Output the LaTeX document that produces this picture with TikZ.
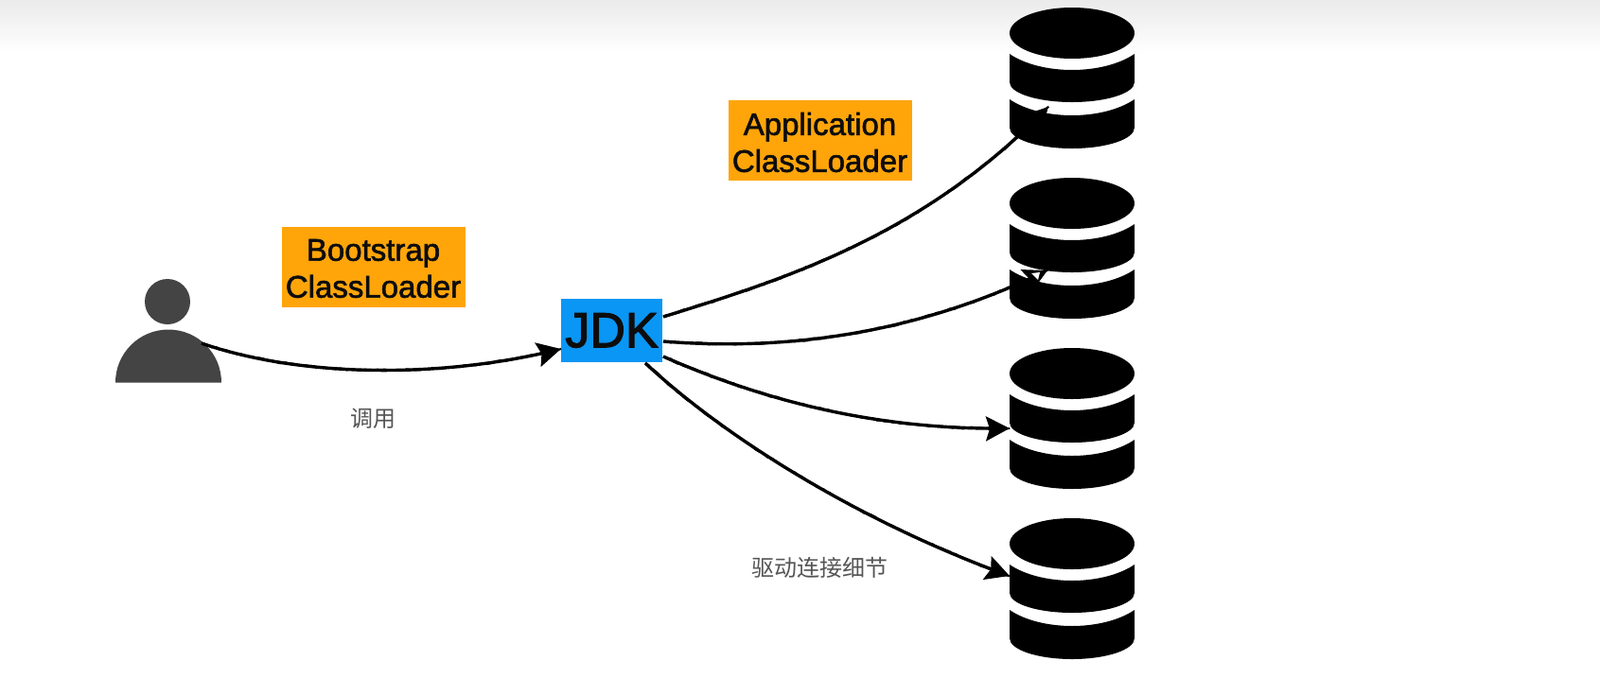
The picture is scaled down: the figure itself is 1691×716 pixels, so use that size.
\documentclass[tikz,border=0pt]{standalone}
\usepackage{fontspec}
\setmainfont{Liberation Sans}
\newfontfamily\cjk{Noto Sans CJK SC}
\newfontfamily\boldish[FakeBold=1.8]{Liberation Sans}
\newfontfamily\boldishbig[FakeBold=2.4]{Liberation Sans}
\usetikzlibrary{arrows.meta,bending,decorations.pathmorphing}
\definecolor{loader}{HTML}{FFA50A}
\definecolor{jdkblue}{HTML}{0A96F5}
\definecolor{persongray}{HTML}{444444}
\definecolor{labelgray}{HTML}{555555}
\tikzset{
  loaderbox/.style={fill=loader,inner sep=0pt,minimum width=194pt,minimum height=85pt},
  loadertext/.style={inner sep=0pt,align=center,text=black!95,font=\boldish\fontsize{33}{39}\selectfont},
  jdkbox/.style={fill=jdkblue,inner sep=0pt,minimum width=107pt,minimum height=67pt,text=black!95,font=\boldishbig\fontsize{52}{56}\selectfont},
  note/.style={text=labelgray,inner sep=0pt,font=\cjk\fontsize{24}{26}\selectfont},
  link/.style={draw=black,line width=3.4pt,decoration={random steps,segment length=4pt,amplitude=1pt},
    postaction={draw,-,line width=2pt,decorate}, -{Stealth[length=25pt,width=26pt,inset=4pt,flex=0]}},
  dbpic/.pic={
    \fill[black] (0,0) ellipse [x radius=66,y radius=27];
    \fill[black] (-66,22) .. controls (-50,33) and (-25,39) .. (0,39) .. controls (25,39) and (50,33) .. (66,22) -- (66,52) arc [start angle=0,end angle=180,x radius=66,y radius=21] -- cycle;
    \fill[black] (-66,70) .. controls (-50,81) and (-25,87) .. (0,87) .. controls (25,87) and (50,81) .. (66,70) -- (66,100) arc [start angle=0,end angle=180,x radius=66,y radius=22] -- cycle;
  }
}
\begin{document}
\begin{tikzpicture}[x=1pt,y=-1pt]
\useasboundingbox (0,0) rectangle (1691,716);
\fill[white] (0,0) rectangle (1691,716);
\shade[top color=black!8,bottom color=white] (0,0) rectangle (1691,56);

% person
\fill[persongray] (177,319) circle [radius=24];
\fill[persongray] (122,404.5) arc [start angle=180,end angle=0,x radius=56,y radius=-56] -- cycle;
\coordinate (person) at (213,363);

% databases
\pic at (1133,35) {dbpic};
\pic at (1133,215) {dbpic};
\pic at (1133,395) {dbpic};
\pic at (1133,575) {dbpic};
\coordinate (db1) at (1108,113);
\coordinate (db2) at (1107,286);
\coordinate (db3) at (1067,453);
\coordinate (db4) at (1067,609);

% boxes
\node[loaderbox] (boot) at (394.5,282) {};
\node[loadertext] (boottext) at ([yshift=-2pt]boot.center) {Bootstrap\\ClassLoader};
\node[loaderbox] (app) at (866.5,148.5) {};
\node[loadertext] (apptext) at ([yshift=-2pt]app.center) {Application\\ClassLoader};
\node[jdkbox] (jdk) at (646.5,349.5) {JDK};
\coordinate (jdkA) at (701,335);
\coordinate (jdkB) at (701,361);
\coordinate (jdkC) at (701,377);
\coordinate (jdkD) at (682,384);

% connectors
\draw[link] (person) .. controls (320,400) and (470,400) .. (jdk.west |- 0,369);
\draw[link] (jdkA) .. controls (830,295) and (975,250) .. (db1);
\draw[link] (jdkB) .. controls (840,372) and (975,350) .. (db2);
\draw[link] (jdkC) .. controls (810,425) and (930,455) .. (db3);
\draw[link] (jdkD) .. controls (780,475) and (930,560) .. (db4);
\fill[white] (1090,289) -- (1097,296) -- (1099,288) -- cycle;

% labels
\node[note] (call) at (394,443) {调用};
\node[note] (driver) at (866,600) {驱动连接细节};
\end{tikzpicture}
\end{document}
